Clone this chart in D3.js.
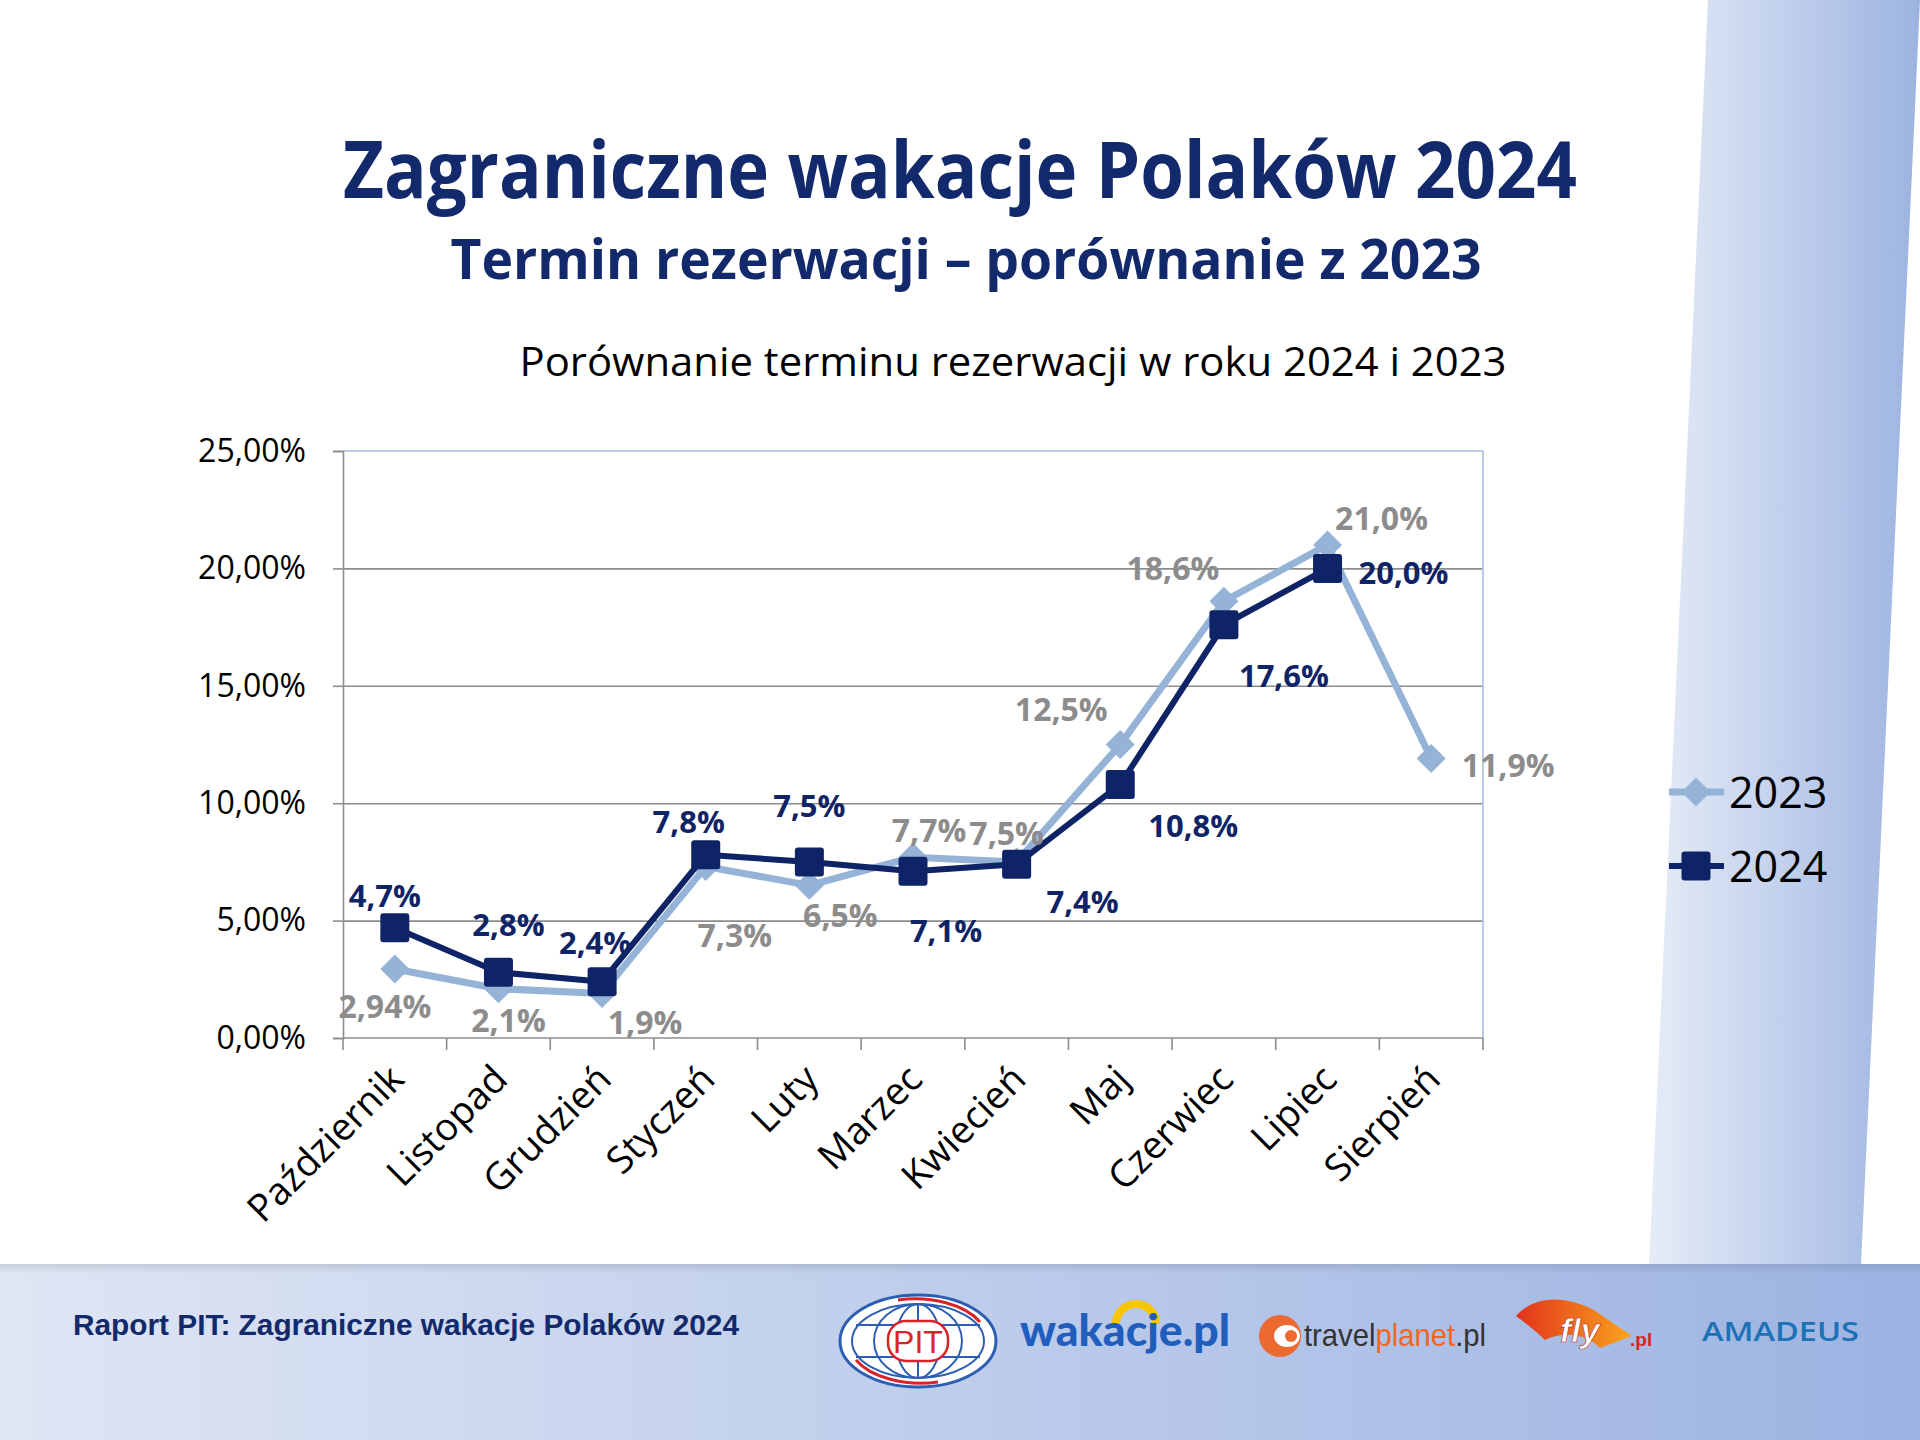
<!DOCTYPE html>
<html>
<head>
<meta charset="utf-8">
<script src="https://cdn.jsdelivr.net/npm/d3@7/dist/d3.min.js"></script>
<style>
  html, body { margin: 0; padding: 0; background: #fff; }
  svg { display: block; font-family: "Open Sans", "Noto Sans", sans-serif; }
</style>
</head>
<body>
<svg width="1920" height="1440"></svg>
<script>
// data
var months = ['Październik', 'Listopad', 'Grudzień', 'Styczeń', 'Luty', 'Marzec',
              'Kwiecień', 'Maj', 'Czerwiec', 'Lipiec', 'Sierpień'];
var values2023 = [2.94, 2.1, 1.9, 7.3, 6.5, 7.7, 7.5, 12.5, 18.6, 21.0, 11.9];
var values2024 = [4.7, 2.8, 2.4, 7.8, 7.5, 7.1, 7.4, 10.8, 17.6, 20.0];
var yTicks = [0, 5, 10, 15, 20, 25];
var seriesNames = ['2023', '2024'];

// where each data label sits relative to its point [dx, dy]
var offsets2023 = [[-10, 49], [10, 43], [43, 41], [29, 80], [31, 42], [16, -15],
                   [-10, -17], [-59, -24], [-51, -21], [54, -15], [77, 18]];
var offsets2024 = [[-10, -21], [10, -36], [-7, -28], [-17, -22], [0, -45], [33, 71],
                   [66, 49], [73, 53], [60, 62], [76, 16]];

var svg = d3.select('svg');
var W = 1920, H = 1440;

var navy = '#0f2466';
var light = '#95b3d7';

var defs = svg.append('defs');
var g1 = defs.append('linearGradient').attr('id', 'stripe').attr('x1', 0).attr('x2', 1);
g1.append('stop').attr('offset', 0).attr('stop-color', '#e6ecf7');
g1.append('stop').attr('offset', 1).attr('stop-color', '#9cb3e1');
var g2 = defs.append('linearGradient').attr('id', 'foot').attr('x1', 0).attr('x2', 1);
g2.append('stop').attr('offset', 0).attr('stop-color', '#dfe6f4');
g2.append('stop').attr('offset', 1).attr('stop-color', '#9cb3e2');
var g3 = defs.append('linearGradient').attr('id', 'shadow').attr('x1', 0).attr('x2', 0).attr('y1', 0).attr('y2', 1);
g3.append('stop').attr('offset', 0).attr('stop-color', '#000').attr('stop-opacity', 0.10);
g3.append('stop').attr('offset', 1).attr('stop-color', '#000').attr('stop-opacity', 0);
var g4 = defs.append('linearGradient').attr('id', 'fly').attr('x1', 0).attr('x2', 1);
g4.append('stop').attr('offset', 0).attr('stop-color', '#e2321b');
g4.append('stop').attr('offset', 1).attr('stop-color', '#f9a51c');

// slanted decorative band on the right
svg.append('path')
    .attr('d', 'M1708,0 L1920,0 L1920,0 L1861,1264 L1649,1264 Z')
    .attr('fill', 'url(#stripe)');

// footer band
svg.append('rect').attr('x', 0).attr('y', 1264).attr('width', W).attr('height', H - 1264)
    .attr('fill', 'url(#foot)');
svg.append('rect').attr('x', 0).attr('y', 1264).attr('width', W).attr('height', 10)
    .attr('fill', 'url(#shadow)');

// titles
svg.append('text')
    .attr('x', 960).attr('y', 198)
    .attr('text-anchor', 'middle')
    .attr('font-size', 78).attr('font-weight', 700)
    .attr('fill', '#12296b')
    .attr('textLength', 1234).attr('lengthAdjust', 'spacingAndGlyphs')
    .text('Zagraniczne wakacje Polaków 2024');
svg.append('text')
    .attr('x', 966).attr('y', 279)
    .attr('text-anchor', 'middle')
    .attr('font-size', 56).attr('font-weight', 700)
    .attr('fill', '#12296b')
    .attr('textLength', 1031).attr('lengthAdjust', 'spacingAndGlyphs')
    .text('Termin rezerwacji – porównanie z 2023');
svg.append('text')
    .attr('x', 1013).attr('y', 376)
    .attr('text-anchor', 'middle')
    .attr('font-size', 41)
    .attr('fill', '#000')
    .attr('textLength', 987).attr('lengthAdjust', 'spacingAndGlyphs')
    .text('Porównanie terminu rezerwacji w roku 2024 i 2023');

// plot area
var plot = {l: 343, r: 1483, t: 451, b: 1038};
var pw = plot.r - plot.l, ph = plot.b - plot.t;

var x = d3.scaleBand().domain(months).range([0, pw]).paddingInner(0).paddingOuter(0);
var y = d3.scaleLinear().domain([0, 25]).range([ph, 0]);
var cx = function(i) { return x(months[i]) + x.bandwidth() / 2; };

var g = svg.append('g').attr('transform', 'translate(' + plot.l + ',' + plot.t + ')');

// horizontal grid
g.append('g')
    .attr('class', 'grid')
    .call(d3.axisLeft(y).tickValues(yTicks.slice(1, 5)).tickSize(-pw).tickFormat(''))
    .call(function(s) { s.select('.domain').remove(); })
    .selectAll('line')
    .attr('stroke', '#8c8c8c').attr('stroke-width', 1.6);

// top and right border of the plot area
g.append('line').attr('x1', 0).attr('x2', pw).attr('y1', y(25)).attr('y2', y(25))
    .attr('stroke', '#a9bfdc').attr('stroke-width', 1.6);
g.append('line').attr('x1', pw).attr('x2', pw).attr('y1', 0).attr('y2', ph)
    .attr('stroke', '#a9bfdc').attr('stroke-width', 1.6);

// y axis
var yAxis = g.append('g')
    .call(d3.axisLeft(y).tickValues(yTicks).tickSizeOuter(0).tickSize(10).tickPadding(27)
        .tickFormat(function(d) { return d3.format('.2f')(d).replace('.', ',') + '%'; }));
yAxis.select('.domain').attr('stroke', '#8c8c8c').attr('stroke-width', 1.6);
yAxis.selectAll('.tick line').attr('stroke', '#8c8c8c').attr('stroke-width', 1.6);
yAxis.selectAll('.tick text')
    .attr('font-size', 32).attr('fill', '#000')
    .attr('font-family', '"Open Sans", sans-serif');

// x axis: line at 0 and ticks on category boundaries
g.append('line').attr('x1', 0).attr('x2', pw).attr('y1', ph).attr('y2', ph)
    .attr('stroke', '#8c8c8c').attr('stroke-width', 1.6);
var bounds = months.map(function(m) { return x(m); }).concat([pw]);
g.selectAll('.xtick')
    .data(bounds)
    .enter().append('line')
    .attr('class', 'xtick')
    .attr('x1', function(d) { return d; }).attr('x2', function(d) { return d; })
    .attr('y1', ph).attr('y2', ph + 12)
    .attr('stroke', '#8c8c8c').attr('stroke-width', 1.6);

g.selectAll('.xlabel')
    .data(months)
    .enter().append('text')
    .attr('class', 'xlabel')
    .attr('transform', function(d, i) {
        return 'translate(' + (cx(i) - 8) + ',' + (ph + 24) + ') rotate(-45)';
    })
    .attr('text-anchor', 'end')
    .attr('dy', '0.72em')
    .attr('font-size', 38)
    .attr('fill', '#000')
    .text(function(d) { return d; });

// lines
var line = d3.line()
    .x(function(d, i) { return cx(i); })
    .y(function(d) { return y(d); });

g.append('path').datum(values2023)
    .attr('d', line)
    .attr('fill', 'none').attr('stroke', light).attr('stroke-width', 7)
    .attr('stroke-linejoin', 'round');

var diamond = d3.symbol().type(d3.symbolSquare).size(420);
g.selectAll('.m2023')
    .data(values2023)
    .enter().append('path')
    .attr('class', 'm2023')
    .attr('d', diamond)
    .attr('transform', function(d, i) { return 'translate(' + cx(i) + ',' + y(d) + ') rotate(45)'; })
    .attr('fill', light);

g.append('path').datum(values2024)
    .attr('d', line)
    .attr('fill', 'none').attr('stroke', navy).attr('stroke-width', 6)
    .attr('stroke-linejoin', 'round');

g.selectAll('.m2024')
    .data(values2024)
    .enter().append('rect')
    .attr('class', 'm2024')
    .attr('x', function(d, i) { return cx(i) - 14.5; })
    .attr('y', function(d) { return y(d) - 14.5; })
    .attr('width', 29).attr('height', 29).attr('rx', 3)
    .attr('fill', navy);

// data labels
var fmt = function(d) {
    var s = Math.round(d * 10) === d * 10 ? d.toFixed(1) : d.toFixed(2);
    return s.replace('.', ',') + '%';
};
g.selectAll('.l2023')
    .data(values2023)
    .enter().append('text')
    .attr('class', 'l2023')
    .attr('x', function(d, i) { return cx(i) + offsets2023[i][0]; })
    .attr('y', function(d, i) { return y(d) + offsets2023[i][1]; })
    .attr('text-anchor', 'middle')
    .attr('font-size', 32).attr('font-weight', 700)
    .attr('fill', '#8c8c8c')
    .text(fmt);
g.selectAll('.l2024')
    .data(values2024)
    .enter().append('text')
    .attr('class', 'l2024')
    .attr('x', function(d, i) { return cx(i) + offsets2024[i][0]; })
    .attr('y', function(d, i) { return y(d) + offsets2024[i][1]; })
    .attr('text-anchor', 'middle')
    .attr('font-size', 31).attr('font-weight', 700)
    .attr('fill', navy)
    .text(fmt);

// legend
var legend = svg.append('g').attr('transform', 'translate(1669,792)');
seriesNames.forEach(function(name, i) {
    var row = legend.append('g').attr('transform', 'translate(0,' + (i * 74) + ')');
    row.append('line').attr('x1', 0).attr('x2', 55).attr('y1', 0).attr('y2', 0)
        .attr('stroke', i === 0 ? light : navy).attr('stroke-width', i === 0 ? 7 : 6);
    if (i === 0) {
        row.append('path').attr('d', diamond).attr('transform', 'translate(27,0) rotate(45)')
            .attr('fill', light);
    } else {
        row.append('rect').attr('x', 12.5).attr('y', -14.5).attr('width', 29).attr('height', 29)
            .attr('rx', 3).attr('fill', navy);
    }
    row.append('text').attr('x', 60).attr('y', 16)
        .attr('font-size', 43).attr('fill', '#000')
        .text(name);
});

// footer
svg.append('text')
    .attr('x', 73).attr('y', 1335)
    .attr('font-family', '"Liberation Sans", Arial, sans-serif')
    .attr('font-size', 29).attr('font-weight', 700)
    .attr('fill', '#12296b')
    .attr('textLength', 666).attr('lengthAdjust', 'spacingAndGlyphs')
    .text('Raport PIT: Zagraniczne wakacje Polaków 2024');

// PIT logo
var pit = svg.append('g').attr('transform', 'translate(918,1341)');
pit.append('ellipse').attr('rx', 78).attr('ry', 46).attr('fill', '#fff')
    .attr('stroke', '#2c5fb2').attr('stroke-width', 3);
pit.append('ellipse').attr('rx', 66).attr('ry', 37).attr('fill', 'none')
    .attr('stroke', '#2c5fb2').attr('stroke-width', 2);
pit.append('path').attr('d', 'M-20,-41 A72,41 0 0,1 62,-19').attr('fill', 'none')
    .attr('stroke', '#d8232a').attr('stroke-width', 3);
pit.append('path').attr('d', 'M-62,19 A72,41 0 0,0 20,41').attr('fill', 'none')
    .attr('stroke', '#d8232a').attr('stroke-width', 3);
[22, 44].forEach(function(r) {
    pit.append('ellipse').attr('rx', r).attr('ry', 37).attr('fill', 'none')
        .attr('stroke', '#2c5fb2').attr('stroke-width', 2);
});
[-16, 16].forEach(function(dy) {
    pit.append('line').attr('x1', -62).attr('x2', 62).attr('y1', dy).attr('y2', dy)
        .attr('stroke', '#2c5fb2').attr('stroke-width', 2);
});
pit.append('line').attr('x1', 0).attr('x2', 0).attr('y1', -37).attr('y2', 37)
    .attr('stroke', '#2c5fb2').attr('stroke-width', 2);
pit.append('rect').attr('x', -30).attr('y', -20).attr('width', 60).attr('height', 40).attr('rx', 18)
    .attr('fill', '#fff').attr('stroke', '#d8232a').attr('stroke-width', 2.5);
pit.append('text').attr('text-anchor', 'middle').attr('y', 12)
    .attr('font-family', '"Liberation Sans Narrow", "Liberation Sans", sans-serif')
    .attr('font-size', 32).attr('fill', '#d8232a')
    .text('PIT');

// wakacje.pl
svg.append('path').attr('d', 'M1116,1324 A20,20 0 0,1 1156,1324')
    .attr('fill', 'none').attr('stroke', '#f8c500').attr('stroke-width', 8);
svg.append('text').attr('x', 1020).attr('y', 1346)
    .attr('font-family', 'Lato, sans-serif').attr('font-weight', 900)
    .attr('font-size', 44).attr('fill', '#1f5ebd')
    .attr('textLength', 210).attr('lengthAdjust', 'spacingAndGlyphs')
    .text('wakacje.pl');

// travelplanet.pl
svg.append('circle').attr('cx', 1280).attr('cy', 1336).attr('r', 21).attr('fill', '#ec6a2f');
svg.append('ellipse').attr('cx', 1287).attr('cy', 1336).attr('rx', 13).attr('ry', 11).attr('fill', '#fff');
svg.append('circle').attr('cx', 1291).attr('cy', 1336).attr('r', 6).attr('fill', '#ec6a2f');
var tp = svg.append('text').attr('x', 1304).attr('y', 1346)
    .attr('font-family', '"Liberation Sans Narrow", "Liberation Sans", sans-serif')
    .attr('font-size', 32)
    .attr('textLength', 182).attr('lengthAdjust', 'spacingAndGlyphs');
tp.append('tspan').attr('fill', '#333').text('travel');
tp.append('tspan').attr('fill', '#f26522').text('planet');
tp.append('tspan').attr('fill', '#333').text('.pl');

// fly.pl
svg.append('path')
    .attr('d', 'M1516,1316 C1538,1292 1570,1298 1594,1310 L1632,1336 L1600,1348 C1585,1332 1560,1332 1545,1340 C1535,1330 1524,1322 1516,1316 Z')
    .attr('fill', 'url(#fly)');
svg.append('text').attr('x', 1560).attr('y', 1342)
    .attr('font-family', '"Liberation Sans", sans-serif').attr('font-weight', 700)
    .attr('font-style', 'italic').attr('font-size', 34).attr('fill', '#fff')
    .attr('stroke', '#b3261e').attr('stroke-width', 0.6)
    .text('fly');
svg.append('text').attr('x', 1630).attr('y', 1346)
    .attr('font-family', '"Liberation Sans", sans-serif').attr('font-weight', 700)
    .attr('font-size', 19).attr('fill', '#d7261d')
    .text('.pl');

// amadeus
svg.append('text').attr('x', 1702).attr('y', 1341)
    .attr('font-family', '"Open Sans", sans-serif').attr('font-weight', 600)
    .attr('font-size', 38).attr('fill', '#1c72b6')
    .attr('font-variant', 'small-caps')
    .attr('textLength', 157).attr('lengthAdjust', 'spacingAndGlyphs')
    .text('amadeus');
</script>
</body>
</html>
